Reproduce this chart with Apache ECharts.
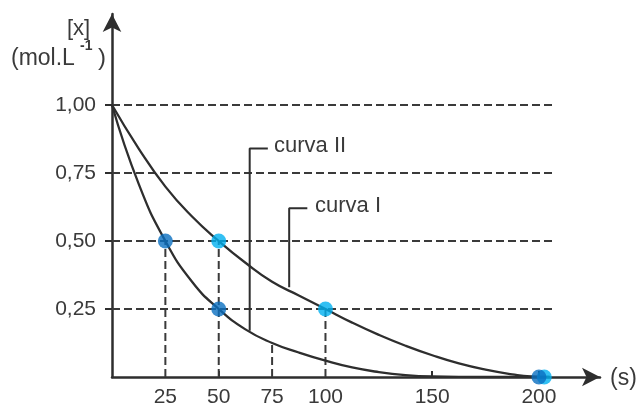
<!DOCTYPE html>
<html><head><meta charset="utf-8">
<script src="https://cdn.jsdelivr.net/npm/echarts@6/dist/echarts.min.js"></script>
<style>html,body{margin:0;padding:0;background:#fff}#c{width:642px;height:410px}</style>
</head><body><div id="c"></div>
<script>
// Time (s) and concentration
const curveUpperT = [0, 12.5, 25, 37.5, 50, 62.5, 75, 87.5, 100, 112.5, 125, 137.5, 150, 162.5, 175, 187.5, 196, 205];
const curveUpperY = [1.00, 0.84, 0.70, 0.59, 0.50, 0.42, 0.35, 0.30, 0.25, 0.20, 0.155, 0.115, 0.08, 0.05, 0.027, 0.01, 0.002, 0.0];
const curveLowerT = [0, 12.5, 25, 37.5, 50, 62.5, 75, 87.5, 100, 112.5, 125, 137.5, 150, 175, 205];
const curveLowerY = [1.00, 0.71, 0.50, 0.35, 0.25, 0.175, 0.125, 0.09, 0.06, 0.035, 0.018, 0.007, 0.002, 0.0, 0.0];
const yTicks = [0.25, 0.50, 0.75, 1.00];
const xTicks = [25, 50, 75, 100, 150, 200];
const hGuideEnd = 207;
// vertical dashed guides: [t, value reached]
const vGuides = [[25, 0.50], [50, 0.50], [75, 0.125], [100, 0.25]];
const darkPoints = [[25, 0.50], [50, 0.25], [200, 0]];
const lightPoints = [[50, 0.50], [100, 0.25], [202.5, 0]];
// leader lines
const leaderII = [[73, 0.84], [64.5, 0.84], [64.5, 0.17]];
const leaderI = [[91.5, 0.62], [83, 0.62], [83, 0.33]];

const chart = echarts.init(document.getElementById('c'));
const ink = '#2e2e2e';
const txt = '#3a3a3a';
const fam = 'Liberation Sans, Arial, sans-serif';
const dash = {color: '#3a3a3a', width: 2, type: [8, 4]};
const series = [];
yTicks.forEach(v => series.push({type: 'line', data: [[0, v], [hGuideEnd, v]], symbol: 'none', lineStyle: dash, z: 1, silent: true}));
vGuides.forEach(g => series.push({type: 'line', data: [[g[0], 0], [g[0], g[1]]], symbol: 'none', lineStyle: dash, z: 1, silent: true}));
series.push({type: 'line', data: curveUpperT.map((t, i) => [t, curveUpperY[i]]), symbol: 'none', smooth: 0.5, lineStyle: {color: ink, width: 2.3}, z: 3});
series.push({type: 'line', data: curveLowerT.map((t, i) => [t, curveLowerY[i]]), symbol: 'none', smooth: 0.5, lineStyle: {color: ink, width: 2.3}, z: 3});
series.push({type: 'line', data: leaderII, symbol: 'none', lineStyle: {color: ink, width: 2}, z: 2});
series.push({type: 'line', data: leaderI, symbol: 'none', lineStyle: {color: ink, width: 2}, z: 2});
series.push({type: 'scatter', data: lightPoints, symbolSize: 15, itemStyle: {color: '#00b0f0'}, z: 5});
series.push({type: 'scatter', data: darkPoints, symbolSize: 15, itemStyle: {color: '#0a6fc0'}, z: 6});

const labelFont = {fontFamily: fam, fontSize: 21, color: txt};
chart.setOption({
  animation: false,
  grid: {left: 112, right: 42, top: 14, bottom: 33},
  xAxis: {
    type: 'value', min: 0, max: 228.6, interval: 25,
    axisLine: {show: true, symbol: ['none', 'arrow'], symbolSize: [14, 18], lineStyle: {color: ink, width: 2.5}},
    axisTick: {show: true, inside: true, length: 6, customValues: [50, 150, 200], lineStyle: {color: ink, width: 2}},
    axisLabel: Object.assign({customValues: xTicks, margin: 10}, labelFont),
    splitLine: {show: false}
  },
  yAxis: {
    type: 'value', min: 0, max: 1.3346, interval: 0.25,
    axisLine: {show: true, symbol: ['none', 'arrow'], symbolSize: [14, 18], lineStyle: {color: ink, width: 2.5}},
    axisTick: {show: true, length: 7, customValues: yTicks, lineStyle: {color: ink, width: 2}},
    axisLabel: Object.assign({customValues: yTicks, margin: 16, formatter: v => v.toFixed(2).replace('.', ',')}, labelFont),
    splitLine: {show: false}
  },
  graphic: [
    {type: 'text', left: 67, top: 18, style: {text: '[x]', font: '22px ' + fam, fill: txt}},
    {type: 'text', left: 11, top: 47, style: {text: '(mol.L', font: '23px ' + fam, fill: txt}},
    {type: 'text', left: 80, top: 39, style: {text: '-1', font: 'bold 14px ' + fam, fill: txt}},
    {type: 'text', left: 98, top: 46, style: {text: ')', font: '24px ' + fam, fill: txt}},
    {type: 'text', left: 610, top: 367, style: {text: '(s)', font: '23px ' + fam, fill: txt}},
    {type: 'text', left: 274, top: 135, style: {text: 'curva II', font: '22px ' + fam, fill: txt}},
    {type: 'text', left: 315, top: 195, style: {text: 'curva I', font: '22px ' + fam, fill: txt}}
  ],
  series: series
});
</script></body></html>
